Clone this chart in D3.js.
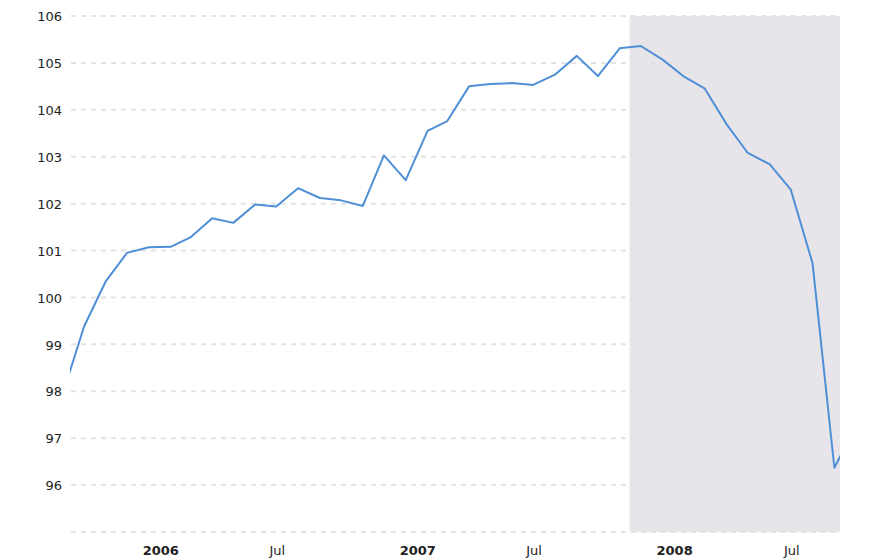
<!DOCTYPE html>
<html>
<head>
<meta charset="utf-8">
<script src="https://cdn.jsdelivr.net/npm/d3@7"></script>
<style>
  body { margin: 0; background: #fff; }
  svg { display: block; font-family: "DejaVu Sans", Verdana, sans-serif; }
  .grid line { stroke: #e3e3e3; stroke-width: 2; stroke-dasharray: 5,5; }
  .label { font-size: 13px; fill: #222; }
  .year { font-weight: bold; }
</style>
</head>
<body>
<svg width="888" height="560"></svg>
<script>
// monthly values, first of each month
const months = [
  "2005-09", "2005-10", "2005-11", "2005-12",
  "2006-01", "2006-02", "2006-03", "2006-04", "2006-05", "2006-06",
  "2006-07", "2006-08", "2006-09", "2006-10", "2006-11", "2006-12",
  "2007-01", "2007-02", "2007-03", "2007-04", "2007-05", "2007-06",
  "2007-07", "2007-08", "2007-09", "2007-10", "2007-11", "2007-12",
  "2008-01", "2008-02", "2008-03", "2008-04", "2008-05", "2008-06",
  "2008-07", "2008-08", "2008-09", "2008-10"
];
const values = [
  97.96, 99.38, 100.35, 100.95,
  101.07, 101.08, 101.28, 101.69, 101.59, 101.98,
  101.94, 102.33, 102.12, 102.07, 101.95, 103.03,
  102.50, 103.55, 103.76, 104.50, 104.55, 104.57,
  104.53, 104.75, 105.15, 104.72, 105.31, 105.36,
  105.07, 104.70, 104.45, 103.69, 103.08, 102.84,
  102.30, 100.73, 96.37, 97.25
];
const yTicks = [96, 97, 98, 99, 100, 101, 102, 103, 104, 105, 106];
const yGrid = [95, 96, 97, 98, 99, 100, 101, 102, 103, 104, 105, 106];
const xTickDates = ["2006-01", "2006-07", "2007-01", "2007-07", "2008-01", "2008-07"];
const xTickLabels = ["2006", "Jul", "2007", "Jul", "2008", "Jul"];
const xDomain = ["2005-09-11", "2008-09-09"];
const recession = ["2007-11-15", "2008-09-09"];

const svg = d3.select("svg");
const parse = d3.timeParse("%Y-%m");
const parseDay = d3.timeParse("%Y-%m-%d");

const m = { left: 70, right: 840, top: 16, bottom: 532 };

const x = d3.scaleTime()
  .domain(xDomain.map(parseDay))
  .range([m.left, m.right]);

const y = d3.scaleLinear()
  .domain([95, 106])
  .range([m.bottom, m.top]);

const data = months.map((d, i) => ({ date: parse(d), value: values[i] }));

// recession band
svg.append("rect")
  .attr("x", x(parseDay(recession[0])))
  .attr("y", y(106))
  .attr("width", x(parseDay(recession[1])) - x(parseDay(recession[0])))
  .attr("height", y(95) - y(106))
  .attr("fill", "#e7e5e9");

svg.append("g")
  .attr("class", "grid")
  .selectAll("line")
  .data(yGrid)
  .enter().append("line")
  .attr("x1", m.left + 1)
  .attr("x2", m.right)
  .attr("y1", d => y(d))
  .attr("y2", d => y(d));

svg.append("g")
  .selectAll("text")
  .data(yTicks)
  .enter().append("text")
  .attr("class", "label")
  .attr("x", 62)
  .attr("y", d => y(d))
  .attr("dy", "0.4em")
  .attr("text-anchor", "end")
  .text(d => d);

svg.append("g")
  .selectAll("text")
  .data(xTickDates)
  .enter().append("text")
  .attr("class", (d, i) => xTickLabels[i] === "Jul" ? "label" : "label year")
  .attr("x", (d, i) => x(parse(d)) + (xTickLabels[i] === "Jul" ? 1 : 12))
  .attr("y", 555)
  .attr("text-anchor", "middle")
  .text((d, i) => xTickLabels[i]);

svg.append("clipPath")
  .attr("id", "clip")
  .append("rect")
  .attr("x", m.left)
  .attr("y", 0)
  .attr("width", m.right - m.left)
  .attr("height", 560);

const line = d3.line()
  .x(d => x(d.date))
  .y(d => y(d.value));

svg.append("path")
  .datum(data)
  .attr("clip-path", "url(#clip)")
  .attr("fill", "none")
  .attr("stroke", "#4f8fd6")
  .attr("stroke-width", 2)
  .attr("stroke-linejoin", "round")
  .attr("d", line);
</script>
</body>
</html>
